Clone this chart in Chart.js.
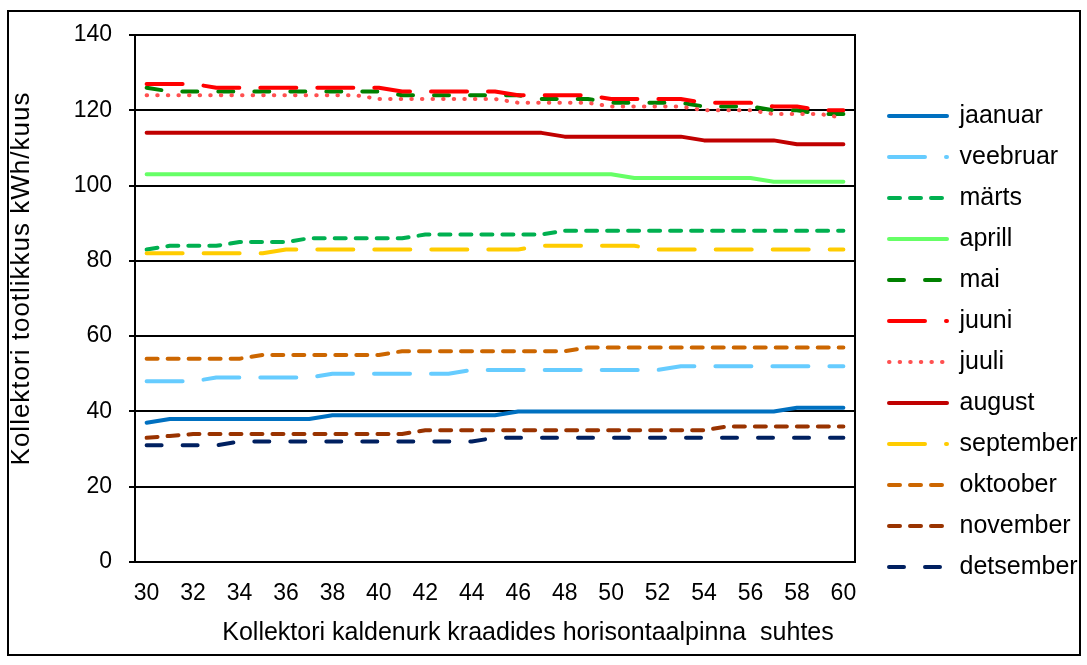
<!DOCTYPE html>
<html>
<head>
<meta charset="utf-8">
<script src="https://cdn.jsdelivr.net/npm/chart.js@4.4.0/dist/chart.umd.min.js"></script>
<style>
  html, body { margin: 0; padding: 0; background: #fff; }
  #wrap { position: relative; width: 1087px; height: 665px; }
  #frame { position: absolute; left: 7px; top: 10px; width: 1074px; height: 646px;
           border: 2px solid #000; box-sizing: border-box; pointer-events: none; }
  #chart { position: absolute; left: 0; top: 0; }
</style>
</head>
<body>
<div id="wrap">
  <canvas id="chart" width="1087" height="665"></canvas>
  <div id="frame"></div>
</div>
<script>
// ==================== DATA =====================
const angles = [30, 31, 32, 33, 34, 35, 36, 37, 38, 39, 40, 41, 42, 43, 44, 45,
  46, 47, 48, 49, 50, 51, 52, 53, 54, 55, 56, 57, 58, 59, 60];

const jaanuar = [37, 38, 38, 38, 38, 38, 38, 38, 39, 39, 39, 39, 39, 39, 39, 39,
  40, 40, 40, 40, 40, 40, 40, 40, 40, 40, 40, 40, 41, 41, 41];
const veebruar = [48, 48, 48, 49, 49, 49, 49, 49, 50, 50, 50, 50, 50, 50, 51, 51,
  51, 51, 51, 51, 51, 51, 51, 52, 52, 52, 52, 52, 52, 52, 52];
const marts = [83, 84, 84, 84, 85, 85, 85, 86, 86, 86, 86, 86, 87, 87, 87, 87,
  87, 87, 88, 88, 88, 88, 88, 88, 88, 88, 88, 88, 88, 88, 88];
const aprill = [103, 103, 103, 103, 103, 103, 103, 103, 103, 103, 103, 103, 103, 103, 103, 103,
  103, 103, 103, 103, 103, 102, 102, 102, 102, 102, 102, 101, 101, 101, 101];
const mai = [126, 125, 125, 125, 125, 125, 125, 125, 125, 125, 125, 124, 124, 124, 124, 124,
  124, 123, 123, 123, 122, 122, 122, 122, 121, 121, 121, 120, 120, 119, 119];
const juuni = [127, 127, 127, 126, 126, 126, 126, 126, 126, 126, 126, 125, 125, 125, 125, 125,
  124, 124, 124, 124, 123, 123, 123, 123, 122, 122, 122, 121, 121, 120, 120];
const juuli = [124, 124, 124, 124, 124, 124, 124, 124, 124, 124, 123, 123, 123, 123, 123, 123,
  122, 122, 122, 122, 121, 121, 121, 121, 120, 120, 120, 119, 119, 119, 118];
const august = [114, 114, 114, 114, 114, 114, 114, 114, 114, 114, 114, 114, 114, 114, 114, 114,
  114, 114, 113, 113, 113, 113, 113, 113, 112, 112, 112, 112, 111, 111, 111];
const september = [82, 82, 82, 82, 82, 82, 83, 83, 83, 83, 83, 83, 83, 83, 83, 83,
  83, 84, 84, 84, 84, 84, 83, 83, 83, 83, 83, 83, 83, 83, 83];
const oktoober = [54, 54, 54, 54, 54, 55, 55, 55, 55, 55, 55, 56, 56, 56, 56, 56,
  56, 56, 56, 57, 57, 57, 57, 57, 57, 57, 57, 57, 57, 57, 57];
const november = [33, 33.5, 34, 34, 34, 34, 34, 34, 34, 34, 34, 34, 35, 35, 35, 35,
  35, 35, 35, 35, 35, 35, 35, 35, 35, 36, 36, 36, 36, 36, 36];
const detsember = [31, 31, 31, 31, 32, 32, 32, 32, 32, 32, 32, 32, 32, 32, 32, 33,
  33, 33, 33, 33, 33, 33, 33, 33, 33, 33, 33, 33, 33, 33, 33];

const yTicks = [0, 20, 40, 60, 80, 100, 120, 140];
const xTitle = "Kollektori kaldenurk kraadides horisontaalpinna  suhtes";
const yTitle = "Kollektori tootlikkus kWh/kuus";

// ============== SERIES STYLES ===============
const LONG = [36, 21];
const MED = [15, 21];
const SHORT = [11, 10];
const DOT = [0.5, 10.1];

const series = [
  { label: "jaanuar", data: jaanuar, color: "#0070C0", dash: [] },
  { label: "veebruar", data: veebruar, color: "#66CCFF", dash: LONG },
  { label: "märts", data: marts, color: "#00B050", dash: SHORT },
  { label: "aprill", data: aprill, color: "#66FF66", dash: [] },
  { label: "mai", data: mai, color: "#008000", dash: MED },
  { label: "juuni", data: juuni, color: "#FF0000", dash: LONG },
  { label: "juuli", data: juuli, color: "#FF5050", dash: DOT },
  { label: "august", data: august, color: "#C00000", dash: [] },
  { label: "september", data: september, color: "#FFCC00", dash: LONG },
  { label: "oktoober", data: oktoober, color: "#CC6600", dash: SHORT },
  { label: "november", data: november, color: "#993300", dash: SHORT },
  { label: "detsember", data: detsember, color: "#002060", dash: MED },
];

const FONT = '"Liberation Sans", Arial, sans-serif';
Chart.defaults.font.family = FONT;
Chart.defaults.color = "#000";

// legend keeps a fixed width so its lines start where Excel put them
const legendWidth = {
  id: "legendWidth",
  beforeLayout(chart) {
    const lg = chart.legend;
    if (lg && !lg._fixedFit) {
      const fit = lg.fit;
      lg.fit = function () {
        fit.call(this);
        this.width = 214;
      };
      lg._fixedFit = true;
    }
  },
};

// axis titles (x title sits right of the plot centre, as in the original)
const axisTitles = {
  id: "axisTitles",
  afterDraw(chart) {
    const { ctx, chartArea } = chart;
    ctx.save();
    ctx.fillStyle = "#000";
    ctx.textAlign = "center";
    ctx.textBaseline = "middle";
    ctx.font = "25px " + FONT;
    ctx.fillText(xTitle, (chartArea.left + chartArea.right) / 2 + 33, chartArea.bottom + 71);
    ctx.font = "26px " + FONT;
    ctx.letterSpacing = "1px";
    ctx.translate(22, (chartArea.top + chartArea.bottom) / 2 - 20);
    ctx.rotate(-Math.PI / 2);
    ctx.fillText(yTitle, 0, 0);
    ctx.restore();
  },
};

// ============== RENDER CHART ===============
const ctx = document.getElementById("chart").getContext("2d");
new Chart(ctx, {
  type: "line",
  data: {
    labels: angles,
    datasets: series.map((s, i) => ({
      label: s.label,
      data: s.data,
      borderColor: s.color,
      backgroundColor: s.color,
      borderWidth: 4,
      borderDash: s.dash,
      borderCapStyle: "round",
      borderJoinStyle: "round",
      pointRadius: 0,
      tension: 0,
      fill: false,
      order: series.length - i,
    })),
  },
  options: {
    responsive: false,
    animation: false,
    devicePixelRatio: 1,
    layout: { padding: { top: 35, bottom: 17, left: 0, right: 0 } },
    plugins: {
      tooltip: { enabled: false },
      legend: {
        position: "right",
        align: "center",
        labels: {
          usePointStyle: true,
          pointStyle: "line",
          pointStyleWidth: 58,
          padding: 16,
          color: "#000",
          font: { size: 25 },
          sort: (a, b) => a.datasetIndex - b.datasetIndex,
          generateLabels(chart) {
            const items = Chart.defaults.plugins.legend.labels.generateLabels(chart);
            items.forEach((it) => {
              const ds = chart.data.datasets[it.datasetIndex];
              it.lineDash = ds.borderDash;
              it.lineWidth = ds.borderWidth;
              it.lineCap = "round";
              it.strokeStyle = ds.borderColor;
              it.pointStyle = "line";
            });
            return items;
          },
        },
      },
    },
    scales: {
      x: {
        type: "category",
        offset: true,
        grid: { display: false },
        border: { display: true, color: "#000", width: 2 },
        ticks: {
          autoSkip: false,
          maxRotation: 0,
          color: "#000",
          font: { size: 23 },
          padding: 10,
          callback: function (value, index) {
            return index % 2 === 0 ? this.getLabelForValue(value) : "";
          },
        },
        afterFit: (s) => { s.height = 86; },
      },
      y: {
        min: yTicks[0],
        max: yTicks[yTicks.length - 1],
        afterBuildTicks: (s) => { s.ticks = yTicks.map((v) => ({ value: v })); },
        grid: { color: "#000", lineWidth: 2, tickLength: 6 },
        border: { display: true, color: "#000", width: 2 },
        ticks: { color: "#000", font: { size: 23 }, padding: 17 },
        afterFit: (s) => { s.width = 135; },
      },
      y2: {
        position: "right",
        min: 0,
        max: 140,
        grid: { display: false },
        border: { display: true, color: "#000", width: 2 },
        ticks: { display: false },
        afterFit: (s) => { s.width = 18; },
      },
    },
  },
  plugins: [legendWidth, axisTitles],
});
</script>
</body>
</html>
